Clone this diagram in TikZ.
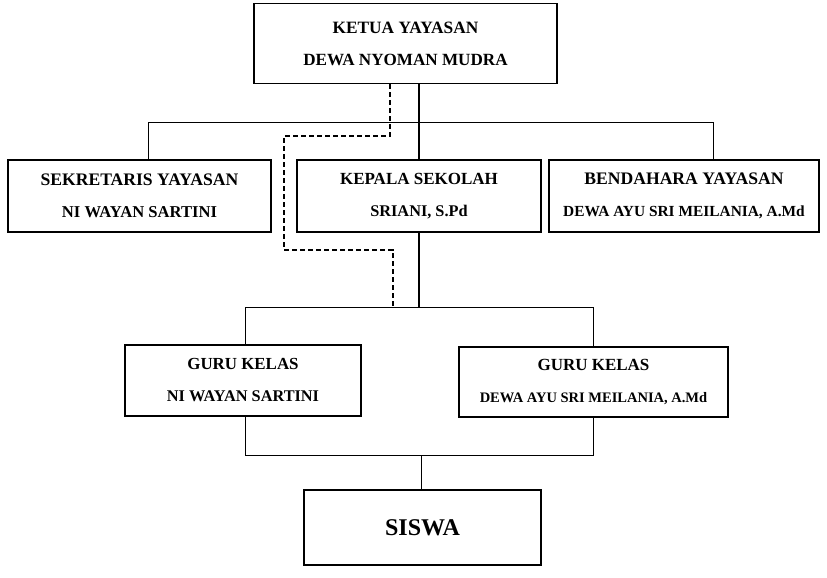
\documentclass[tikz,border=0pt]{standalone}
\usepackage{fontspec}
\setmainfont{Liberation Serif}
\usepackage{tikz}
\usetikzlibrary{positioning}

\newcommand{\linesz}[2]{{\fontsize{#1}{32}\selectfont #2}}

\begin{document}
\begin{tikzpicture}[x=1pt,y=-1pt]
        \useasboundingbox (0,0) rectangle (827,578);
        \begin{scope}[every node/.style={draw,line width=1.4pt,rectangle,align=center,inner sep=0pt,font=\bfseries\fontsize{16}{32}\selectfont}]
          \node[minimum width=303,minimum height=80] (ketua) at (405.5,43.5) {\linesz{17.3}{KETUA YAYASAN}\\\linesz{17.1}{DEWA NYOMAN MUDRA}};
          \node[minimum width=263,minimum height=72] (sekretaris) at (139.5,196) {\linesz{17.6}{SEKRETARIS YAYASAN}\\\linesz{16.6}{NI WAYAN SARTINI}};
          \node[minimum width=244,minimum height=72] (kepala) at (419,196) {\linesz{17}{KEPALA SEKOLAH}\\\linesz{16.3}{SRIANI, S.Pd}};
          \node[minimum width=270,minimum height=72] (bendahara) at (684,196) {\linesz{17.6}{BENDAHARA YAYASAN}\\\linesz{15.4}{DEWA AYU SRI MEILANIA, A.Md}};
          \node[minimum width=236,minimum height=71] (gurua) at (243,380.5) {\linesz{16.9}{GURU KELAS}\\\linesz{16.3}{NI WAYAN SARTINI}};
          \node[minimum width=269,minimum height=70] (gurub) at (593.5,382) {\linesz{17}{GURU KELAS}\\\linesz{14.5}{DEWA AYU SRI MEILANIA, A.Md}};
          \node[minimum width=237,minimum height=75,font=\bfseries\fontsize{24}{28}\selectfont] (siswa) at (422.5,527.5) {SISWA};
        \end{scope}
        \coordinate (ls) at (148,122);
        \coordinate (rs) at (713,122);
        \coordinate (lg) at (245,307);
        \coordinate (rg) at (593,307);
        \coordinate (lb) at (245,455);
        \coordinate (rb) at (593,455);
        \coordinate (dtop) at (390,136);
        \coordinate (dleft) at (284,250);
        \coordinate (dmid) at (393,250);
        \begin{scope}[line width=0.9pt]
          \path[draw] (ls) -- (rs);
          \path[draw] (ls) -- (ls |- sekretaris.north);
          \path[draw] (rs) -- (rs |- bendahara.north);
          \path[draw,line width=1.3pt] (ketua.south -| kepala.north) -- (kepala.north);
          \path[draw,line width=1.3pt] (kepala.south) -- (kepala.south |- lg);
          \path[draw] (lg) -- (rg);
          \path[draw] (lg) -- (lg |- gurua.north);
          \path[draw] (rg) -- (rg |- gurub.north);
          \path[draw] (gurua.south -| lb) -- (lb) -- (rb) -- (gurub.south -| rb);
          \path[draw] (siswa.north -| 421,0) -- (lb -| 421,0);
          %\path (ketua) edge (kepala);
          \path[draw,dashed,line width=1.2pt,dash pattern=on 5pt off 3pt] (ketua.south -| dtop) -- (dtop) -| (dleft) -- (dmid) -- (dmid |- lg);
        \end{scope}
      \end{tikzpicture}
\end{document}
